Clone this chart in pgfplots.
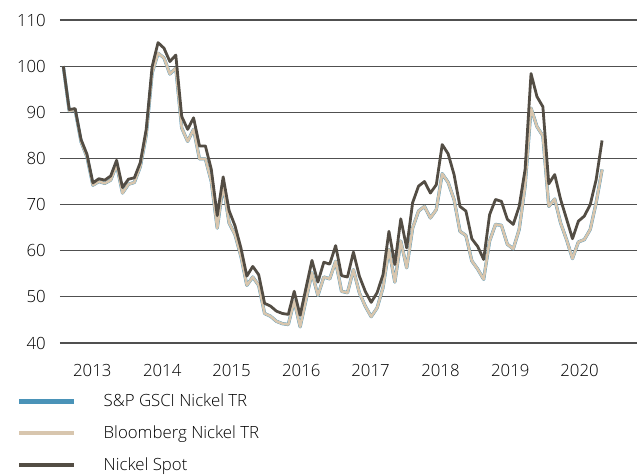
\documentclass[border=0pt]{standalone}
\usepackage{fontspec}
\setmainfont{Open Sans}[UprightFont={* Light}]
\usepackage{pgfplots}
\usepackage{pgfplotstable}
\pgfplotsset{compat=1.18}
\definecolor{spot}{HTML}{534D44}
\definecolor{bbg}{HTML}{D8C6AE}
\definecolor{gsci}{HTML}{4A93B8}
\definecolor{gridc}{HTML}{505050}
\pgfplotstableread{
m spot bbg
0 100 100
1 90.6 90.3
2 90.8 90.5
3 84.1 83.6
4 80.9 80.3
5 74.7 74.2
6 75.6 75.0
7 75.3 74.6
8 76.2 75.3
9 79.6 78.6
10 73.7 72.5
11 75.5 74.4
12 75.8 74.8
13 79.1 78.2
14 86.3 85.0
15 99.9 98.5
16 105.1 102.8
17 103.9 101.8
18 101.0 98.3
19 102.4 99.6
20 89.1 86.6
21 86.3 83.7
22 88.8 86.3
23 82.7 79.9
24 82.7 79.9
25 77.6 75.0
26 67.6 64.9
27 76.0 74.3
28 68.7 66.0
29 65.4 63.5
30 60.6 58.8
31 54.5 52.5
32 56.6 54.3
33 54.8 52.5
34 48.6 46.4
35 48.0 45.8
36 46.9 44.7
37 46.4 44.2
38 46.2 44.0
39 51.2 49.1
40 46.0 43.5
41 52.0 49.4
42 57.9 55.2
43 53.2 50.3
44 57.5 54.3
45 57.1 53.9
46 61.1 57.7
47 54.6 51.2
48 54.3 50.9
49 59.7 55.9
50 54.5 50.9
51 51.2 48.0
52 48.8 45.7
53 50.9 47.6
54 54.8 52.0
55 64.2 60.3
56 57.0 53.2
57 66.9 62.1
58 60.6 56.3
59 70.4 64.9
60 74.0 68.6
61 75.0 69.6
62 72.5 67.1
63 74.3 68.9
64 83.0 76.7
65 81.0 74.8
66 76.5 71.1
67 69.6 64.2
68 68.6 63.3
69 62.6 57.8
70 60.9 56.0
71 58.1 53.8
72 67.8 62.1
73 71.1 65.7
74 70.7 65.5
75 66.8 61.4
76 65.7 60.4
77 69.6 64.6
78 77.6 74.0
79 98.4 90.9
80 93.4 86.9
81 91.2 84.9
82 74.5 69.6
83 76.5 71.2
84 71.1 66.0
85 66.9 62.4
86 62.6 58.3
87 66.4 61.9
88 67.5 62.4
89 70.0 64.6
90 75.4 70.4
91 83.9 77.6
}\nickeldata
\begin{document}
\begin{tikzpicture}
\path[use as bounding box] (-60bp,-132bp) rectangle (577bp,343bp);
\begin{axis}[
  at={(0,0)}, anchor=south west,
  scale only axis, width=577bp, height=323bp,
  xmin=-0.56, xmax=96.9, ymin=40, ymax=110,
  axis line style={draw=none},
  ymajorgrids, grid style={gridc, line width=1.2bp},
  ytick={40,50,...,110},
  xtick={4.9,16.7,28.4,40.2,51.9,63.7,75.5,87.2},
  xticklabels={2013,2014,2015,2016,2017,2018,2019,2020},
  tick style={draw=none},
  font=\fontsize{16.8bp}{20bp}\selectfont,
  /pgf/number format/assume math mode=true,
  yticklabel style={inner sep=0pt, xshift=-14bp},
  xticklabel style={inner sep=0pt, yshift=-21bp},
  legend cell align=left,
  legend style={at={(rel axis cs:0,0)}, anchor=north west, xshift=-43bp, yshift=-51bp,
    draw=none, fill=none, inner sep=0pt, row sep=17.5bp,
    nodes={inner sep=0pt},
    /tikz/every odd column/.append style={column sep=27bp},
    font=\fontsize{16.8bp}{20bp}\selectfont},
  legend image code/.code={\draw[#1,line width=4.5bp,line cap=butt] (0bp,0bp) -- (55bp,0bp);},
]
\addplot[gsci, line width=3.2bp, line join=round] table[x=m,y=bbg] {\nickeldata};
\addlegendentry{S\&P GSCI Nickel TR}
\addplot[bbg, line width=2.6bp, line join=round] table[x=m,y=bbg] {\nickeldata};
\addlegendentry{Bloomberg Nickel TR}
\addplot[spot, line width=2.8bp, line join=round] table[x=m,y=spot] {\nickeldata};
\addlegendentry{Nickel Spot}
\end{axis}
\end{tikzpicture}
\end{document}
